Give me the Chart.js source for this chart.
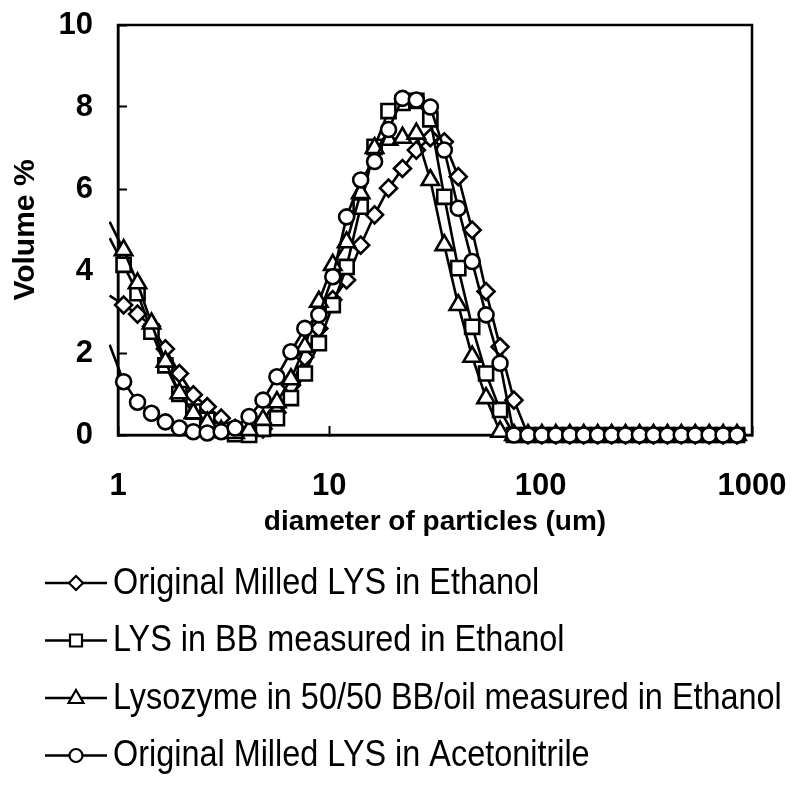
<!DOCTYPE html>
<html>
<head>
<meta charset="utf-8">
<script src="https://cdn.jsdelivr.net/npm/chart.js@4.4.0/dist/chart.umd.min.js"></script>
<style>
  html, body { margin: 0; padding: 0; background: #fff; }
</style>
</head>
<body>
<canvas id="chart" width="800" height="788"></canvas>
<script>
// particle size bins (um); the first one sits just left of 1
const diameters = [0.913, 1.063, 1.237, 1.44, 1.676, 1.952, 2.272, 2.644, 3.078, 3.583,
  4.172, 4.857, 5.649, 6.58, 7.656, 8.918, 10.38, 12.07, 14.07, 16.37,
  19.06, 22.18, 25.8, 30.06, 34.99, 40.74, 47.41, 55.15, 64.24, 74.74,
  87.08, 101.3, 117.9, 137.3, 159.8, 186.1, 216.6, 252.0, 293.5, 341.6,
  397.8, 462.9, 538.6, 627.3, 729.9, 849.3];

const milledEthanol = [3.4, 3.17, 2.95, 2.65, 2.1, 1.5, 0.98, 0.69, 0.41, 0.16,
  0.05, 0.15, 0.55, 1.2, 1.9, 2.6, 3.3, 3.78, 4.63, 5.37,
  6.02, 6.5, 6.95, 7.25, 7.15, 6.3, 5.0, 3.5, 2.15, 0.85,
  0, 0, 0, 0, 0, 0, 0, 0, 0, 0,
  0, 0, 0, 0, 0, 0];

const bbEthanol = [4.8, 4.15, 3.46, 2.52, 1.7, 1.0, 0.57, 0.37, 0.12, 0.02,
  0, 0.15, 0.41, 0.9, 1.5, 2.24, 3.17, 4.1, 5.57, 7.03,
  7.9, 8.1, 8.15, 7.7, 5.81, 4.07, 2.64, 1.5, 0.61, 0,
  0, 0, 0, 0, 0, 0, 0, 0, 0, 0,
  0, 0, 0, 0, 0, 0];

const bbOilEthanol = [5.2, 4.51, 3.7, 2.72, 1.79, 1.02, 0.53, 0.3, 0.1, 0.05,
  0.12, 0.37, 0.8, 1.36, 2.15, 3.25, 4.15, 4.7, 5.9, 7.0,
  7.2, 7.25, 7.35, 6.22, 4.63, 3.17, 1.91, 0.9, 0.08, 0,
  0, 0, 0, 0, 0, 0, 0, 0, 0, 0,
  0, 0, 0, 0, 0, 0];

const milledAcetonitrile = [2.2, 1.3, 0.8, 0.53, 0.32, 0.17, 0.08, 0.05, 0.08, 0.17,
  0.45, 0.85, 1.42, 2.03, 2.6, 2.93, 3.86, 5.32, 6.22, 6.67,
  7.45, 8.21, 8.17, 8.0, 6.95, 5.53, 4.23, 2.93, 1.75, 0,
  0, 0, 0, 0, 0, 0, 0, 0, 0, 0,
  0, 0, 0, 0, 0, 0];

const seriesLabels = [
  'Original Milled LYS in Ethanol',
  'LYS in BB measured in Ethanol',
  'Lysozyme in 50/50 BB/oil measured in Ethanol',
  'Original Milled LYS in Acetonitrile'
];

const xTicks = [1, 10, 100, 1000];
const yTicks = [0, 2, 4, 6, 8, 10];

const FONT = '"Liberation Sans", Arial, Helvetica, sans-serif';

function toPoints(values) {
  return values.map((v, i) => ({ x: diameters[i], y: v }));
}

function makeSet(label, values, style, radius, order) {
  return {
    label: label,
    data: toPoints(values),
    pointStyle: style,
    borderColor: '#000',
    backgroundColor: '#fff',
    borderWidth: 2.6,
    pointBorderWidth: 2.6,
    pointBackgroundColor: '#fff',
    pointBorderColor: '#000',
    pointRadius: ctx => (ctx.raw && ctx.raw.x < 1 ? 0 : radius),
    pointHoverRadius: radius,
    tension: 0,
    fill: false,
    order: order,
    clip: { left: 9, top: 5, right: 5, bottom: 12 }
  };
}

// frame around the plot area (top and right sides included)
const frame = {
  id: 'frame',
  beforeDatasetsDraw(chart) {
    const a = chart.chartArea;
    const ctx = chart.ctx;
    ctx.save();
    ctx.strokeStyle = '#000';
    ctx.lineWidth = 2.5;
    ctx.strokeRect(a.left, a.top, a.right - a.left, a.bottom - a.top);
    ctx.restore();
  }
};

// legend drawn as line - marker - line, one row per series
const lineLegend = {
  id: 'lineLegend',
  afterDraw(chart) {
    const ctx = chart.ctx;
    const top = 583, step = 57.5;
    ctx.save();
    chart.data.datasets.forEach((ds, i) => {
      const y = top + i * step;
      ctx.strokeStyle = '#000';
      ctx.lineWidth = 2.5;
      ctx.beginPath();
      ctx.moveTo(45, y);
      ctx.lineTo(107, y);
      ctx.stroke();
      ctx.fillStyle = '#fff';
      ctx.lineWidth = 2.2;
      ctx.beginPath();
      const cx = 76;
      if (ds.pointStyle === 'rectRot') {
        ctx.moveTo(cx, y - 7); ctx.lineTo(cx + 7, y); ctx.lineTo(cx, y + 7); ctx.lineTo(cx - 7, y); ctx.closePath();
      } else if (ds.pointStyle === 'rect') {
        ctx.rect(cx - 6, y - 6, 12, 12);
      } else if (ds.pointStyle === 'triangle') {
        ctx.moveTo(cx, y - 8); ctx.lineTo(cx + 7.5, y + 5); ctx.lineTo(cx - 7.5, y + 5); ctx.closePath();
      } else {
        ctx.arc(cx, y, 6.5, 0, Math.PI * 2);
      }
      ctx.fill();
      ctx.stroke();
      // the legend type in the source is tall and narrow
      ctx.save();
      ctx.translate(113, y + 1);
      ctx.scale(0.9, 1);
      ctx.fillStyle = '#000';
      ctx.font = '36px ' + FONT;
      ctx.textBaseline = 'middle';
      ctx.textAlign = 'left';
      ctx.fillText(ds.label, 0, 0);
      ctx.restore();
    });
    ctx.restore();
  }
};

new Chart(document.getElementById('chart').getContext('2d'), {
  type: 'line',
  data: {
    datasets: [
      makeSet(seriesLabels[0], milledEthanol, 'rectRot', 8.5, 3),
      makeSet(seriesLabels[1], bbEthanol, 'rect', 10, 2),
      makeSet(seriesLabels[2], bbOilEthanol, 'triangle', 10, 1),
      makeSet(seriesLabels[3], milledAcetonitrile, 'circle', 7.5, 0)
    ]
  },
  options: {
    responsive: false,
    animation: false,
    devicePixelRatio: 1,
    layout: { padding: { left: 0, right: 48, top: 25, bottom: 243 } },
    plugins: {
      legend: { display: false },
      tooltip: { enabled: false }
    },
    scales: {
      x: {
        type: 'logarithmic',
        min: 1,
        max: 1000,
        afterBuildTicks: scale => { scale.ticks = xTicks.map(v => ({ value: v })); },
        afterFit: scale => {
          scale.height = 110;
          scale.paddingLeft = 0; scale.paddingRight = 0;
        },
        ticks: {
          callback: v => String(v),
          color: '#000',
          font: { family: FONT, size: 31, weight: 'bold' },
          padding: 42,
          maxRotation: 0,
          autoSkip: false
        },
        grid: { drawOnChartArea: false, tickLength: -9, tickColor: '#000', tickWidth: 2 },
        border: { color: '#000', width: 2.5 },
        title: {
          display: true,
          text: 'diameter of particles (um)',
          color: '#000',
          font: { family: FONT, size: 28, weight: 'bold' },
          padding: { top: 0, bottom: 6 }
        }
      },
      y: {
        min: 0,
        max: 10,
        afterBuildTicks: scale => { scale.ticks = yTicks.map(v => ({ value: v })); },
        afterFit: scale => {
          scale.width = 118;
          scale.paddingTop = 0; scale.paddingBottom = 0;
        },
        ticks: {
          color: '#000',
          font: { family: FONT, size: 31, weight: 'bold' },
          padding: 34
        },
        grid: { drawOnChartArea: false, tickLength: -9, tickColor: '#000', tickWidth: 2 },
        border: { color: '#000', width: 2.5 },
        title: {
          display: true,
          text: 'Volume %',
          color: '#000',
          font: { family: FONT, size: 30, weight: 'bold' },
          padding: { top: 8, bottom: 0 }
        }
      }
    }
  },
  plugins: [frame, lineLegend]
});
</script>
</body>
</html>
